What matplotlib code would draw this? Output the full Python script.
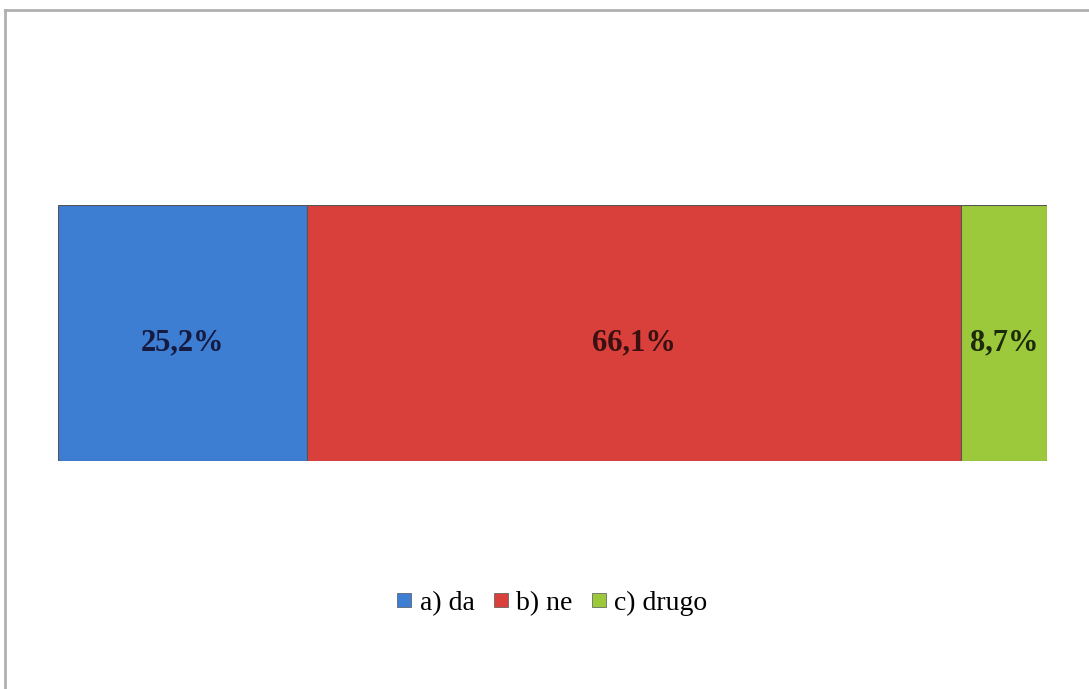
import matplotlib.pyplot as plt
from matplotlib.lines import Line2D

categories = ['a) da', 'b) ne', 'c) drugo']
values = [25.2, 66.1, 8.7]
labels = ['25,2%', '66,1%', '8,7%']
colors = ['#3d7dd2', '#d9403c', '#9cc83c']
label_colors = ['#141a40', '#3a1010', '#1c2a0a']

plt.rcParams['font.family'] = ['Liberation Serif', 'DejaVu Serif']

fig = plt.figure(figsize=(10.89, 6.89), dpi=100)
ax = fig.add_axes([58 / 1089, (689 - 461) / 689, 989 / 1089, 256 / 689])

left = 0
handles = []
for cat, val, lab, col, lcol in zip(categories, values, labels, colors, label_colors):
    ax.barh(0, val, left=left, height=1.0, color=col, edgecolor='#555555', linewidth=0.8)
    ax.text(left + val / 2, -0.04, lab, ha='center', va='center', fontsize=22,
            fontweight='bold', color=lcol)
    handles.append(Line2D([], [], marker='s', linestyle='none', markersize=10,
                          markerfacecolor=col, markeredgecolor='#555555',
                          markeredgewidth=0.5, label=cat))
    left += val

ax.set_xlim(0, sum(values))
ax.set_ylim(-0.5, 0.5)
ax.axis('off')

fig.legend(handles=handles, loc='center', bbox_to_anchor=(551 / 1089, 1 - 603 / 689),
           ncol=3, frameon=False, fontsize=20, handletextpad=0.2, columnspacing=0.6,
           handlelength=0.7)

# chart frame (only top and left edges are visible)
fig.add_artist(Line2D([5 / 1089, 5 / 1089], [0, 1 - 10 / 689], color='#b0b0b0',
                      linewidth=2, transform=fig.transFigure))
fig.add_artist(Line2D([5 / 1089, 1], [1 - 10 / 689, 1 - 10 / 689], color='#b0b0b0',
                      linewidth=2, transform=fig.transFigure))

fig.savefig('out.png', dpi=100)
